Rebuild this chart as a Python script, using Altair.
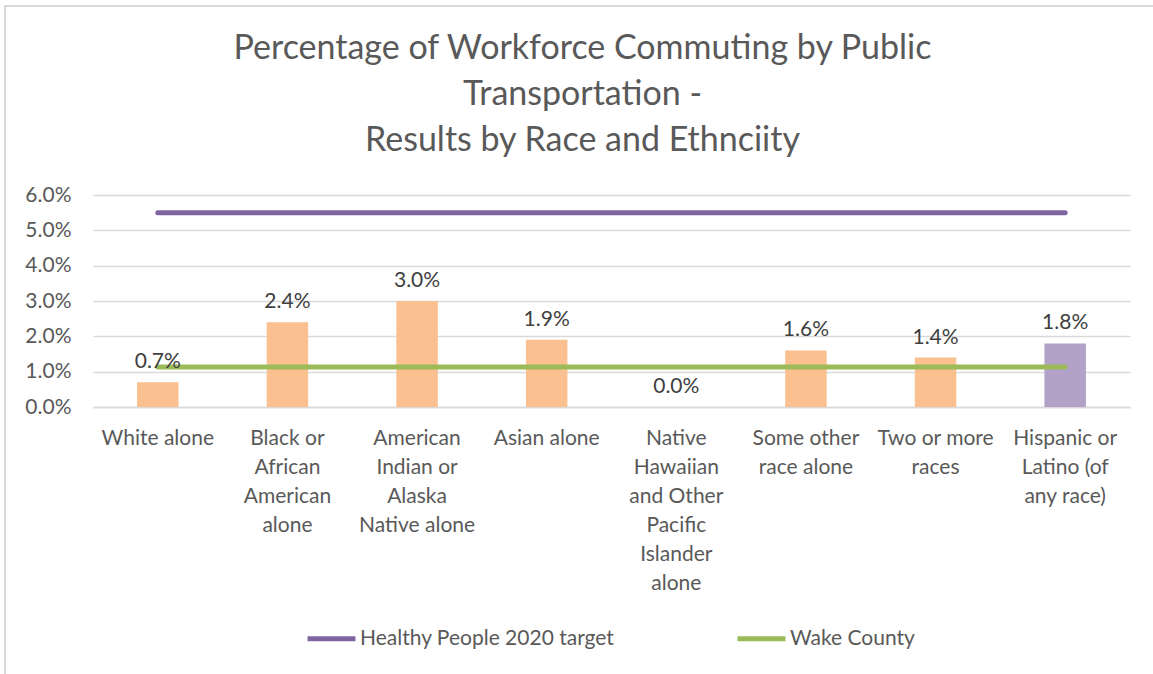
import altair as alt
import pandas as pd

categories = [
    "White alone",
    "Black or|African|American|alone",
    "American|Indian or|Alaska|Native alone",
    "Asian alone",
    "Native|Hawaiian|and Other|Pacific|Islander|alone",
    "Some other|race alone",
    "Two or more|races",
    "Hispanic or|Latino (of|any race)",
]
values = [0.007, 0.024, 0.030, 0.019, 0.000, 0.016, 0.014, 0.018]
groups = ["race", "race", "race", "race", "race", "race", "race", "ethnicity"]
target_value = 0.055
county_value = 0.0113
series_names = ["Healthy People 2020 target", "Wake County"]
y_ticks = [0.0, 0.01, 0.02, 0.03, 0.04, 0.05, 0.06]

bars_df = pd.DataFrame({"cat": categories, "value": values, "group": groups})
lines_df = pd.DataFrame(
    [{"cat": c, "series": series_names[0], "value": target_value} for c in categories]
    + [{"cat": c, "series": series_names[1], "value": county_value} for c in categories]
)

FONT = "Lato"
TXT = "#595959"
FS = 21

x_axis = alt.Axis(
    title=None,
    labelExpr="split(datum.label, '|')",
    labelAngle=0,
    labelFontSize=FS,
    labelColor=TXT,
    labelFont=FONT,
    labelLineHeight=29,
    labelPadding=20,
    labelLimit=200,
    ticks=False,
    grid=False,
    domainColor="#D9D9D9",
    domainWidth=1.5,
)
y_axis = alt.Axis(
    title=None,
    format=".1%",
    values=y_ticks,
    labelOverlap=False,
    labelFontSize=FS,
    labelColor=TXT,
    labelFont=FONT,
    labelPadding=22,
    ticks=False,
    domain=False,
    grid=True,
    gridColor="#D9D9D9",
    gridWidth=1.5,
)
x_scale = alt.Scale(paddingInner=0.68, paddingOuter=0.34)
y_scale = alt.Scale(domain=[0, 0.06])

def xe():
    return alt.X("cat:N", sort=categories, scale=x_scale, axis=x_axis)

def ye():
    return alt.Y("value:Q", scale=y_scale, axis=y_axis)

bars = alt.Chart(bars_df).mark_bar().encode(
    x=xe(),
    y=ye(),
    color=alt.Color(
        "group:N",
        scale=alt.Scale(domain=["race", "ethnicity"], range=["#FAC090", "#B3A2C7"]),
        legend=None,
    ),
)

labels = alt.Chart(bars_df).mark_text(
    baseline="bottom", dy=-10, fontSize=FS, font=FONT, color="#404040"
).encode(
    x=xe(),
    y=ye(),
    text=alt.Text("value:Q", format=".1%"),
)

lines = alt.Chart(lines_df).mark_line(strokeWidth=5, strokeCap="round").encode(
    x=xe(),
    y=ye(),
    stroke=alt.Stroke(
        "series:N",
        scale=alt.Scale(domain=series_names, range=["#8064A2", "#9BBB59"]),
        legend=alt.Legend(
            title=None,
            orient="none",
            direction="horizontal",
            legendX=212,
            legendY=417,
            symbolType="stroke",
            symbolStrokeWidth=5,
            symbolSize=2300,
            labelFontSize=FS,
            labelFont=FONT,
            labelColor=TXT,
            labelOffset=2,
            labelLimit=400,
            columnPadding=112,
        ),
    ),
    detail="series:N",
)

border_df = pd.DataFrame({"k": [0]})
border_left = alt.Chart(border_df).mark_rule(color="#D9D9D9", strokeWidth=2).encode(
    x=alt.value(-88), y=alt.value(-190), y2=alt.value(480)
)
border_top = alt.Chart(border_df).mark_rule(color="#D9D9D9", strokeWidth=2).encode(
    y=alt.value(-189), x=alt.value(-88), x2=alt.value(1060)
)

chart = (
    alt.layer(bars, lines, labels, border_left, border_top)
    .resolve_scale(color="independent")
    .properties(
        width=1037,
        height=212,
        view=alt.ViewBackground(strokeWidth=0, stroke="transparent"),
        autosize=alt.AutoSizeParams(type="none"),
        padding={"left": 93, "top": 195, "right": 23, "bottom": 267},
        title=alt.Title(
            ["Percentage of Workforce Commuting by Public", "Transportation -", "Results by Race and Ethnciity"],
            fontSize=34,
            font=FONT,
            fontWeight="normal",
            color=TXT,
            lineHeight=46,
            anchor="middle",
            offset=-154,
            dx=-29,
        ),
    )
    .configure_view(strokeWidth=0, stroke="transparent")
    .configure(background="white")
)

chart.save("out.html", embed_options={"renderer": "svg", "actions": False})
